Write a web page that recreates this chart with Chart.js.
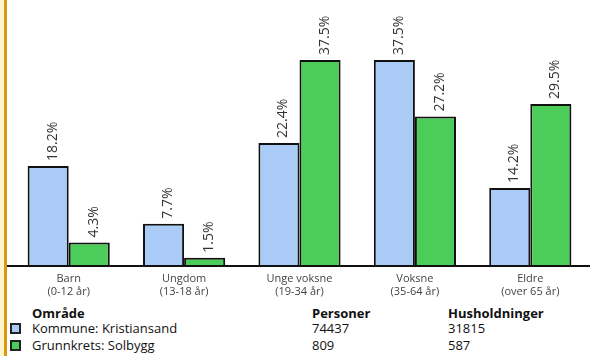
<!DOCTYPE html>
<html>
<head>
<meta charset="utf-8">
<script src="https://cdn.jsdelivr.net/npm/chart.js@4/dist/chart.umd.min.js"></script>
<style>
	body { margin: 0; background: #fff; }
	#wrap { position: relative; width: 590px; height: 356px; overflow: hidden; font-family: 'Open Sans', sans-serif; }
	#edgeFill { position: absolute; left: 0; top: 0; width: 4px; height: 356px; background: #fff4cc; }
	#edgeLine { position: absolute; left: 4px; top: 0; width: 3px; height: 356px; background: #d8980f; }
	#activityChart { position: absolute; left: 0; top: 0; }
	.txt { position: absolute; font-size: 13px; line-height: 16px; color: #111; white-space: nowrap; }
	.bold { font-weight: bold; }
	.box { position: absolute; width: 7px; height: 7px; border: 2px solid #222; }
</style>
</head>
<body>
<div id="wrap">
	<div id="edgeFill"></div>
	<div id="edgeLine"></div>
	<canvas id="activityChart" width="590" height="300"></canvas>
	<div id="legend"></div>
</div>
<script>
var categories = [['Barn', '(0-12 år)'], ['Ungdom', '(13-18 år)'], ['Unge voksne', '(19-34 år)'], ['Voksne', '(35-64 år)'], ['Eldre', '(over 65 år)']];
var kommune = [18.2, 7.7, 22.4, 37.5, 14.2];
var grunnkrets = [4.3, 1.5, 37.5, 27.2, 29.5];
var seriesNames = ['Kommune: Kristiansand', 'Grunnkrets: Solbygg'];
var personer = [74437, 809];
var husholdninger = [31815, 587];
var colors = ['#a9cbf5', '#4ccd5a'];

var valueLabels = {
	id: 'valueLabels',
	afterDatasetsDraw: function(chart) {
		var ctx = chart.ctx;
		ctx.save();
		ctx.font = '14px "Open Sans"';
		ctx.fillStyle = '#333';
		ctx.textAlign = 'left';
		ctx.textBaseline = 'alphabetic';
		chart.data.datasets.forEach(function(ds, i) {
			chart.getDatasetMeta(i).data.forEach(function(bar, j) {
				ctx.save();
				ctx.translate(bar.x, bar.y - 5);
				ctx.rotate(-Math.PI / 2);
				ctx.fillText(ds.data[j].toFixed(1) + '%', 0, 8.5);
				ctx.restore();
			});
		});
		// baseline
		var y = chart.chartArea.bottom;
		ctx.strokeStyle = '#111';
		ctx.lineWidth = 2;
		ctx.beginPath();
		ctx.moveTo(7, y);
		ctx.lineTo(chart.width, y);
		ctx.stroke();
		ctx.restore();
	}
};

new Chart(document.getElementById('activityChart'), {
	type: 'bar',
	data: {
		labels: categories,
		datasets: [{
			label: seriesNames[0],
			data: kommune,
			backgroundColor: colors[0],
			borderColor: '#111',
			borderWidth: 2
		}, {
			label: seriesNames[1],
			data: grunnkrets,
			backgroundColor: colors[1],
			borderColor: '#111',
			borderWidth: 2
		}]
	},
	options: {
		responsive: false,
		animation: false,
		devicePixelRatio: 1,
		categoryPercentage: 0.712,
		barPercentage: 1,
		layout: { padding: { left: 11, right: 2, top: 0, bottom: 0 } },
		plugins: {
			legend: { display: false },
			tooltip: { enabled: false }
		},
		scales: {
			x: {
				grid: { display: false, drawTicks: false },
				border: { display: false },
				ticks: {
					color: '#444',
					padding: 6,
					font: { family: 'Open Sans', size: 11, lineHeight: 1.2 }
				},
				afterFit: function(s) { s.height = 34; }
			},
			y: {
				display: false,
				min: 0,
				max: 48.43
			}
		}
	},
	plugins: [valueLabels]
});

// legend table under the chart
var legend = document.getElementById('legend');
function addText(text, x, top, bold) {
	var d = document.createElement('div');
	d.className = 'txt' + (bold ? ' bold' : '');
	d.style.left = x + 'px';
	d.style.top = top + 'px';
	d.textContent = text;
	legend.appendChild(d);
}
addText('Område', 32, 305, true);
addText('Personer', 312, 305, true);
addText('Husholdninger', 448, 305, true);
var rowTops = [320, 337];
seriesNames.forEach(function(name, i) {
	var b = document.createElement('div');
	b.className = 'box';
	b.style.left = '10px';
	b.style.top = (rowTops[i] + 3) + 'px';
	b.style.background = colors[i];
	legend.appendChild(b);
	addText(name, 32, rowTops[i]);
	addText(String(personer[i]), 312, rowTops[i]);
	addText(String(husholdninger[i]), 448, rowTops[i]);
});
</script>
</body>
</html>
